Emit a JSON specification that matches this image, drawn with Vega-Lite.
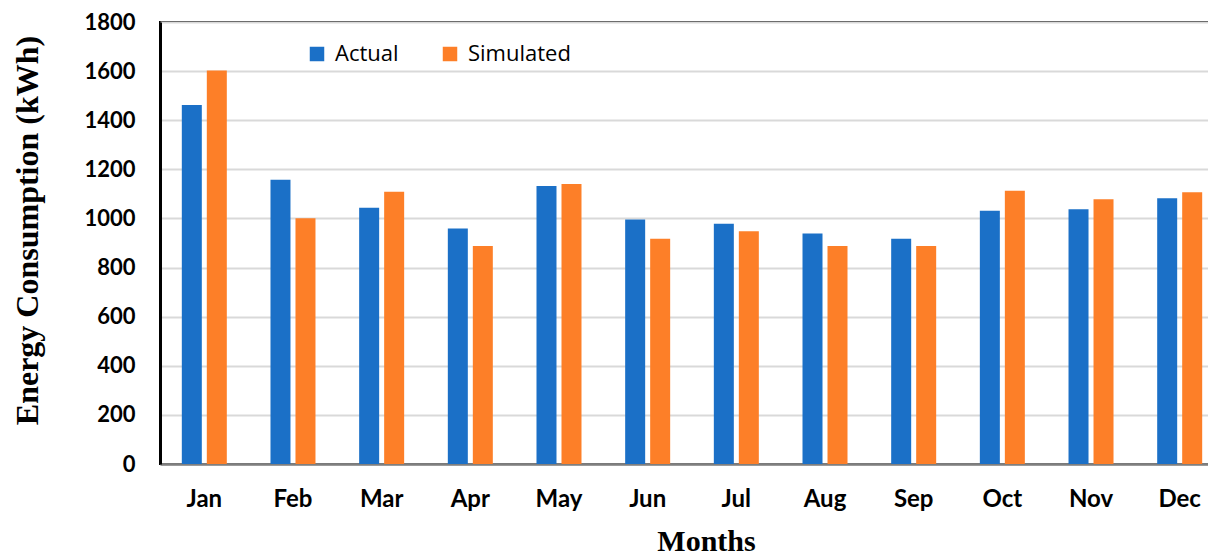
{
  "$schema": "https://vega.github.io/schema/vega-lite/v6.json",
  "width": 1064,
  "height": 442,
  "autosize": "none",
  "padding": {"left": 160, "top": 22, "right": 0, "bottom": 91},
  "background": "white",
  "config": {
    "view": {"stroke": "black", "strokeWidth": 2}
  },
  "data": {
    "values": [
      {"month": "Jan", "series": "Actual", "kwh": 1462},
      {"month": "Jan", "series": "Simulated", "kwh": 1602},
      {"month": "Feb", "series": "Actual", "kwh": 1158},
      {"month": "Feb", "series": "Simulated", "kwh": 1001},
      {"month": "Mar", "series": "Actual", "kwh": 1044},
      {"month": "Mar", "series": "Simulated", "kwh": 1109},
      {"month": "Apr", "series": "Actual", "kwh": 959},
      {"month": "Apr", "series": "Simulated", "kwh": 888},
      {"month": "May", "series": "Actual", "kwh": 1132},
      {"month": "May", "series": "Simulated", "kwh": 1140},
      {"month": "Jun", "series": "Actual", "kwh": 996},
      {"month": "Jun", "series": "Simulated", "kwh": 917},
      {"month": "Jul", "series": "Actual", "kwh": 978},
      {"month": "Jul", "series": "Simulated", "kwh": 948},
      {"month": "Aug", "series": "Actual", "kwh": 939},
      {"month": "Aug", "series": "Simulated", "kwh": 888},
      {"month": "Sep", "series": "Actual", "kwh": 917},
      {"month": "Sep", "series": "Simulated", "kwh": 888},
      {"month": "Oct", "series": "Actual", "kwh": 1031},
      {"month": "Oct", "series": "Simulated", "kwh": 1113},
      {"month": "Nov", "series": "Actual", "kwh": 1037},
      {"month": "Nov", "series": "Simulated", "kwh": 1078},
      {"month": "Dec", "series": "Actual", "kwh": 1082},
      {"month": "Dec", "series": "Simulated", "kwh": 1107}
    ]
  },
  "mark": {"type": "bar"},
  "encoding": {
    "x": {
      "field": "month",
      "type": "nominal",
      "sort": null,
      "scale": {"paddingInner": 0.4925, "paddingOuter": 0.246},
      "axis": {
        "title": "Months",
        "titleFont": "Liberation Serif",
        "titleFontWeight": "bold",
        "titleFontSize": 30,
        "titleColor": "black",
        "titleX": 546,
        "titleY": 77,
        "titleBaseline": "middle",
        "titleAnchor": null,
        "labelAngle": 0,
        "labelFont": "Lato",
        "labelFontWeight": "bold",
        "labelFontSize": 24,
        "labelColor": "black",
        "labelPadding": 23,
        "ticks": false,
        "domainColor": "#7f7f7f",
        "domainWidth": 2.5
      }
    },
    "xOffset": {
      "field": "series",
      "type": "nominal",
      "scale": {"paddingInner": 0.2, "paddingOuter": 0}
    },
    "y": {
      "field": "kwh",
      "type": "quantitative",
      "scale": {"domain": [0, 1800], "nice": false},
      "axis": {
        "title": "Energy Consumption (kWh)",
        "titleFont": "Liberation Serif",
        "titleFontWeight": "bold",
        "titleFontSize": 32,
        "titleColor": "black",
        "titleX": -133,
        "titleY": 208,
        "titleBaseline": "middle",
        "titleAngle": -90,
        "values": [0, 200, 400, 600, 800, 1000, 1200, 1400, 1600, 1800],
        "format": "d",
        "labelFont": "Lato",
        "labelFontWeight": "bold",
        "labelFontSize": 22,
        "labelColor": "black",
        "labelPadding": 25,
        "ticks": false,
        "domainColor": "black",
        "domainWidth": 3,
        "gridColor": "#d9d9d9",
        "gridWidth": 2
      }
    },
    "color": {
      "field": "series",
      "type": "nominal",
      "scale": {"domain": ["Actual", "Simulated"], "range": ["#1b70c7", "#fd7f28"]},
      "legend": {
        "title": null,
        "orient": "none",
        "legendX": 146,
        "legendY": 21,
        "direction": "horizontal",
        "symbolType": "square",
        "symbolSize": 210,
        "symbolStrokeWidth": 0,
        "symbolOpacity": 1,
        "labelFont": "Open Sans",
        "labelFontSize": 22,
        "labelColor": "black",
        "labelOffset": 7,
        "columnPadding": 40
      }
    }
  }
}
